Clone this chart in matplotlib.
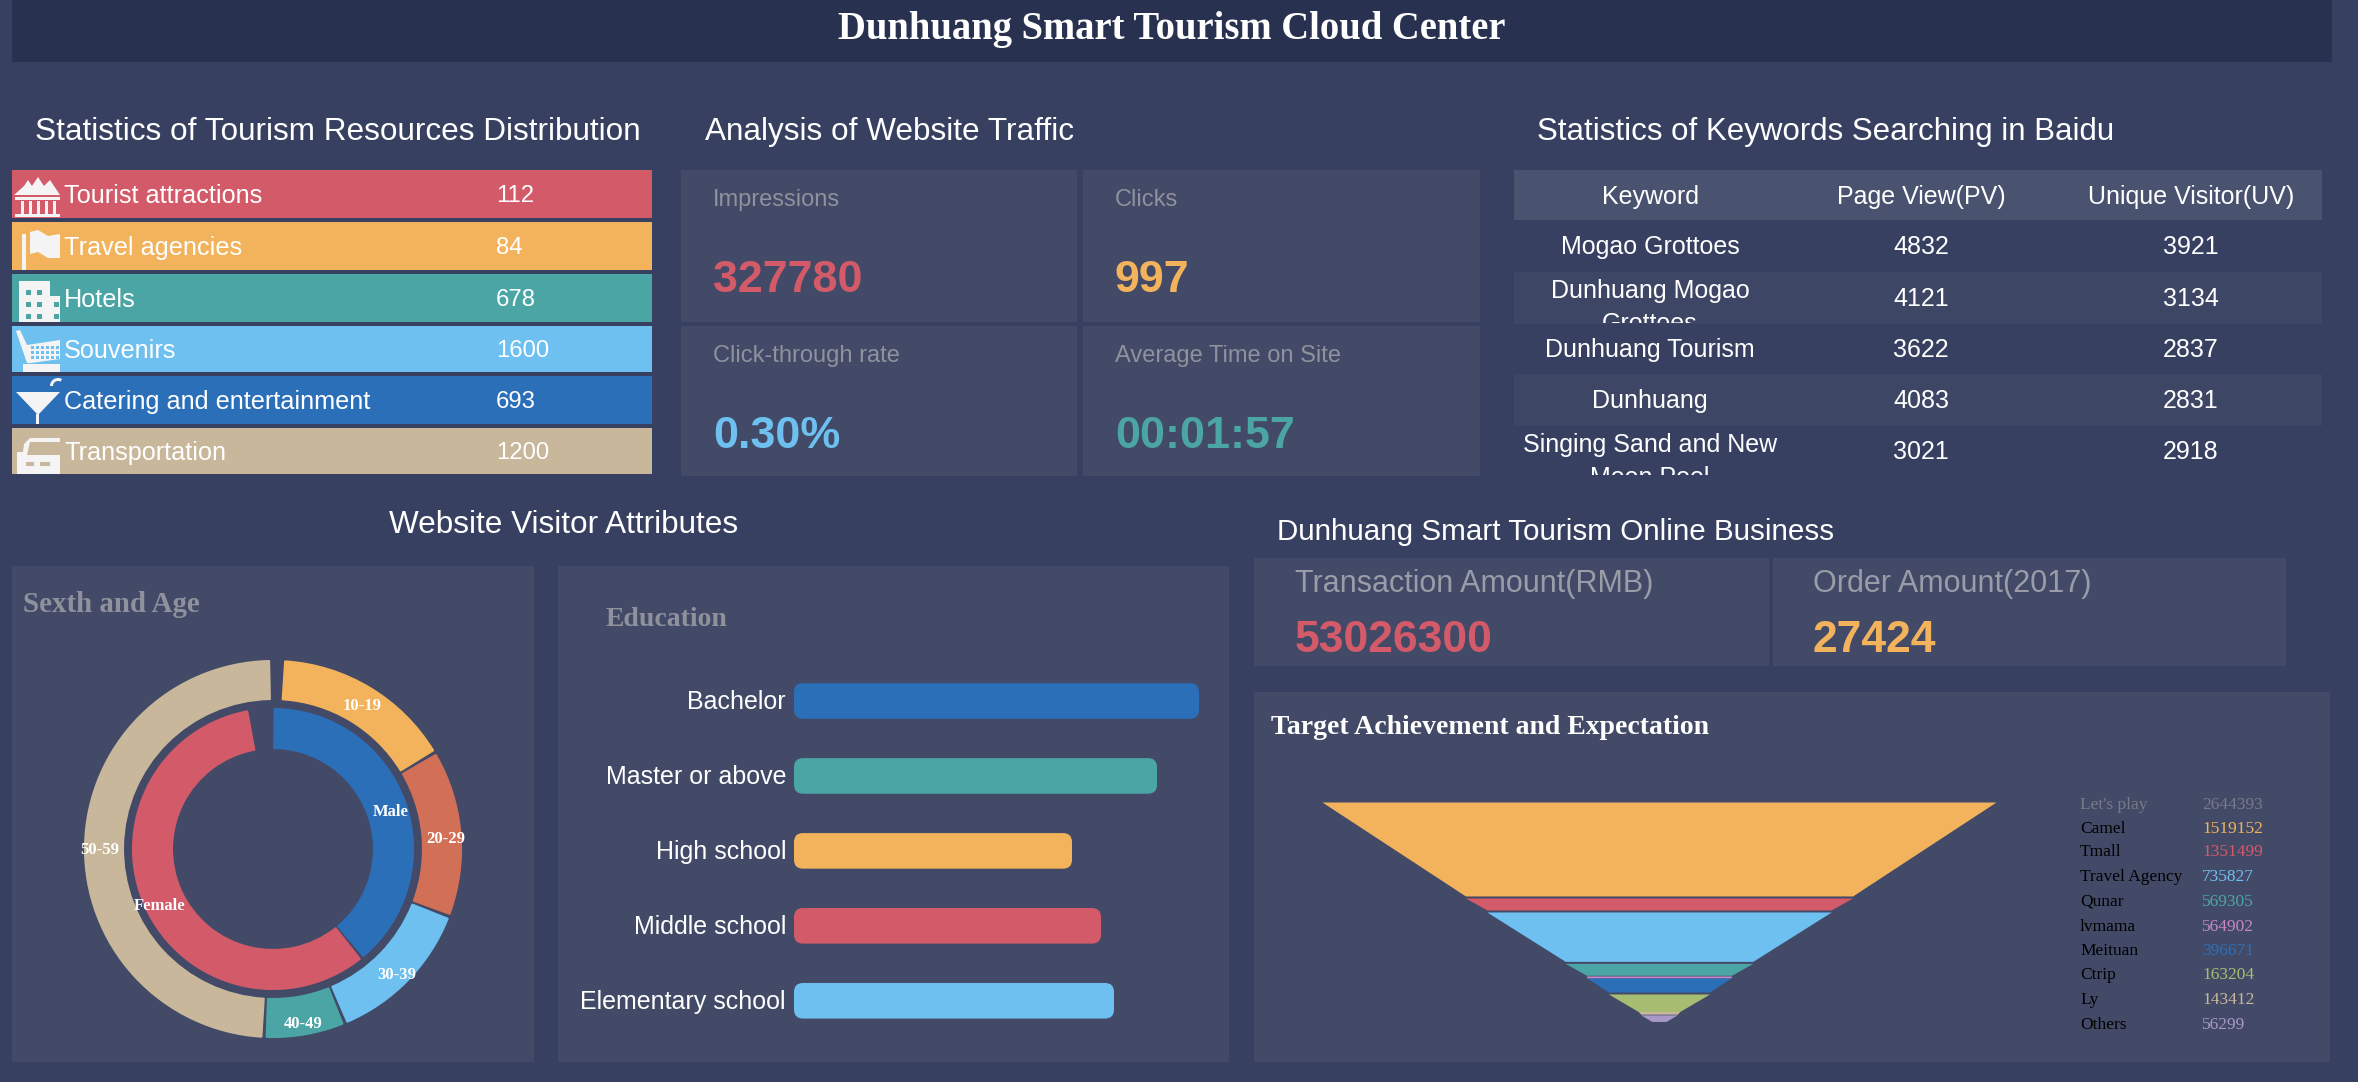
import matplotlib
matplotlib.use("Agg")
import matplotlib.pyplot as plt
from matplotlib.patches import Rectangle, Wedge, Polygon, FancyBboxPatch
import numpy as np

W, H = 2358, 1082

# colours
BG = "#374060"
PANEL = "#424a67"
DARK = "#28314f"
HEAD = "#49536f"
STRIPE = "#3d4664"
GREY = "#8f919d"
RED = "#d35a69"
ORANGE = "#f2b35c"
TEAL = "#4ca5a5"
SKY = "#6ec0f0"
BLUE = "#2c6fb9"
TAN = "#c8b79a"
CORAL = "#d26f57"
PINK = "#c987c8"
GREEN = "#a8bd72"
LAVENDER = "#a898c8"

SANS = "Liberation Sans"
SERIF = "Liberation Serif"

# data
res_names = ["Tourist attractions", "Travel agencies", "Hotels", "Souvenirs",
             "Catering and entertainment", "Transportation"]
res_values = [112, 84, 678, 1600, 693, 1200]
res_colors = [RED, ORANGE, TEAL, SKY, BLUE, TAN]

kpi_labels = ["Impressions", "Clicks", "Click-through rate", "Average Time on Site"]
kpi_values = ["327780", "997", "0.30%", "00:01:57"]
kpi_colors = [RED, ORANGE, SKY, TEAL]

table_head = ["Keyword", "Page View(PV)", "Unique Visitor(UV)"]
table_keywords = ["Mogao Grottoes", "Dunhuang Mogao\nGrottoes", "Dunhuang Tourism",
                  "Dunhuang", "Singing Sand and New\nMoon Pool"]
table_pv = [4832, 4121, 3622, 4083, 3021]
table_uv = [3921, 3134, 2837, 2831, 2918]

sex_names = ["Male", "Female"]
sex_shares = [38.75, 57.8]
sex_colors = [BLUE, RED]
age_names = ["10-19", "20-29", "30-39", "40-49", "50-59"]
age_shares = [15.3, 14.05, 12.6, 6.67, 48.8]
age_colors = [ORANGE, CORAL, SKY, TEAL, TAN]

edu_names = ["Bachelor", "Master or above", "High school", "Middle school", "Elementary school"]
edu_values = [405, 363, 278, 307, 320]
edu_colors = [BLUE, TEAL, ORANGE, RED, SKY]

biz_labels = ["Transaction Amount(RMB)", "Order Amount(2017)"]
biz_values = ["53026300", "27424"]
biz_colors = [RED, ORANGE]

funnel_names = ["Let's play", "Camel", "Tmall", "Travel Agency", "Qunar", "lvmama",
                "Meituan", "Ctrip", "Ly", "Others"]
funnel_values = [2644393, 1519152, 1351499, 735827, 569305, 564902, 396671, 163204, 143412, 56299]
funnel_colors = ["#777b88", ORANGE, RED, SKY, TEAL, PINK, BLUE, GREEN, TAN, LAVENDER]
funnel_gaps = [0, 0, 24000, 24000, 24000, 8000, 0, 24000, 0, 8000]
FUNNEL_MIN = 32000

fig = plt.figure(figsize=(W / 100, H / 100), dpi=100, facecolor=BG)


def px_axes(x0, y0, x1, y1):
    ax = fig.add_axes([x0 / W, 1 - y1 / H, (x1 - x0) / W, (y1 - y0) / H])
    ax.axis("off")
    return ax


bg = px_axes(0, 0, W, H)
bg.set_xlim(0, W)
bg.set_ylim(H, 0)


def box(x0, y0, x1, y1, color):
    r = Rectangle((x0, y0), x1 - x0, y1 - y0, color=color, lw=0)
    bg.add_patch(r)
    return r


def label(x, y, s, size, color="white", ha="left", family=SANS, weight="normal", clip=None):
    t = bg.text(x, y + 2, s, fontsize=size, color=color, ha=ha, va="center",
                family=family, weight=weight)
    if clip is not None:
        t.set_clip_on(True)
        t.set_clip_path(clip)
    return t


# title
box(12, 0, 2332, 62, DARK)
label(1172, 27, "Dunhuang Smart Tourism Cloud Center", 27.8, ha="center", family=SERIF, weight="bold")

# section titles
label(35, 130, "Statistics of Tourism Resources Distribution", 22.7)
label(705, 130, "Analysis of Website Traffic", 22.7)
label(1537, 130, "Statistics of Keywords Searching in Baidu", 22.5)
label(389, 523, "Website Visitor Attributes", 22.7)
label(1277, 530, "Dunhuang Smart Tourism Online Business", 21.3)

# resources list
row_tops = [170, 222, 274, 326, 376, 428]
row_bots = [218, 270, 322, 372, 424, 474]
for i in range(6):
    box(12, row_tops[i], 652, row_bots[i], res_colors[i])
    ym = (row_tops[i] + row_bots[i]) / 2
    label(64, ym, res_names[i], 18.2)
    label(496, ym, str(res_values[i]), 17.2)


# small icons in the rows
def shape(pts, color="#f4f4f4"):
    bg.add_patch(Polygon(pts, closed=True, color=color, lw=0))


# temple
shape([(14, 195), (24, 186), (28, 180), (32, 186), (38, 177), (44, 186), (50, 180), (54, 186), (60, 195)])
shape([(15, 197), (60, 197), (60, 200), (15, 200)])
for cx in [21, 29, 37, 45, 53]:
    shape([(cx, 201), (cx + 3, 201), (cx + 3, 214), (cx, 214)])
shape([(15, 214), (60, 214), (60, 217), (15, 217)])
# flag
shape([(22, 234), (26, 234), (26, 270), (22, 270)])
shape([(30, 232), (38, 230), (48, 236), (60, 234), (60, 258), (48, 258), (38, 252), (30, 254)])
# building
shape([(19, 281), (50, 281), (50, 296), (60, 296), (60, 322), (19, 322)])
for wy in [290, 302, 314]:
    for wx in [26, 37, 54]:
        box(wx, wy, wx + 5, wy + 5, TEAL)
# cart
shape([(16, 331), (20, 330), (27, 345), (60, 340), (60, 359), (31, 363), (27, 363)])
shape([(23, 364), (60, 364), (60, 372), (23, 372)])
for wy in [346, 351, 356]:
    for wx in range(31, 60, 5):
        box(wx, wy, wx + 3, wy + 3, SKY)
# cocktail
shape([(16, 392), (60, 392), (38, 415)])
shape([(36, 414), (39, 414), (39, 424), (36, 424)])
bg.add_patch(Wedge((58, 386), 8, 180, 300, width=3, color="#f4f4f4", lw=0))
# car
shape([(24, 444), (30, 438), (60, 438), (60, 474), (17, 474), (17, 452), (23, 452)])
shape([(30, 442), (60, 442), (60, 455), (27, 455)], TAN)
box(26, 462, 34, 466, TAN)
box(40, 462, 50, 466, TAN)

# traffic cards
card_x = [(681, 1077), (1083, 1480), (681, 1077), (1083, 1480)]
card_y = [(170, 322), (170, 322), (326, 476), (326, 476)]
for i in range(4):
    box(card_x[i][0], card_y[i][0], card_x[i][1], card_y[i][1], PANEL)
    label(card_x[i][0] + 32, card_y[i][0] + 28, kpi_labels[i], 17, color=GREY)
    label(card_x[i][0] + 32, card_y[i][0] + 108, kpi_values[i], 32.3, color=kpi_colors[i], weight="bold")

# keyword table
box(1514, 170, 2322, 220, HEAD)
box(1514, 272, 2322, 324, STRIPE)
box(1514, 374, 2322, 426, STRIPE)
col_x = [1650, 1921, 2191]
for cx, name in zip(col_x, table_head):
    label(cx, 195, name, 18, ha="center")
row_edges = [(220, 272), (272, 324), (324, 374), (374, 426), (426, 476)]
for i in range(5):
    y0, y1 = row_edges[i]
    ym = (y0 + y1) / 2
    clip = Rectangle((1514, y0), 808, y1 - 1 - y0, transform=bg.transData)
    lines = table_keywords[i].split("\n")
    if len(lines) == 1:
        label(col_x[0], ym - 1, lines[0], 18, ha="center")
    else:
        label(col_x[0], y0 + 17, lines[0], 18, ha="center", clip=clip)
        label(col_x[0], y0 + 50, lines[1], 18, ha="center", clip=clip)
    label(col_x[1], ym - 1, str(table_pv[i]), 18, ha="center")
    label(col_x[2], ym - 1, str(table_uv[i]), 18, ha="center")

# lower panels
box(12, 566, 534, 1062, PANEL)
box(558, 566, 1229, 1062, PANEL)
box(1254, 558, 1769, 666, PANEL)
box(1773, 558, 2286, 666, PANEL)
box(1254, 692, 2330, 1062, PANEL)

label(23, 602, "Sexth and Age", 20.8, color=GREY, family=SERIF, weight="bold")
label(606, 618, "Education", 20, color=GREY, family=SERIF, weight="bold")
label(1271, 725, "Target Achievement and Expectation", 20, family=SERIF, weight="bold")

biz_x = [1295, 1813]
for i in range(2):
    label(biz_x[i], 582, biz_labels[i], 22, color="#9a9ca8")
    label(biz_x[i], 638, biz_values[i], 32, color=biz_colors[i], weight="bold")

# donut, 1 data unit = 1 pixel
dn = px_axes(73, 649, 473, 1049)
dn.set_xlim(-200, 200)
dn.set_ylim(-200, 200)


def ring(ax, shares, colors, names, r_out, r_in, start, pad, r_text):
    a = start
    for share, col, name in zip(shares, colors, names):
        sweep = share * 3.6
        # angles run clockwise from 12 o'clock
        ax.add_patch(Wedge((0, 0), r_out - 1, 90 - a - sweep + 0.2, 90 - a - 0.2, width=r_out - r_in - 2,
                           facecolor=col, edgecolor=col, lw=1.5, joinstyle="round"))
        mid = np.radians(a + sweep / 2)
        ax.text(r_text * np.sin(mid), r_text * np.cos(mid) - 5, name, color="white", fontsize=12,
                family=SERIF, weight="bold", ha="center", va="center")
        a += sweep + pad


ring(dn, sex_shares, sex_colors, sex_names, 141, 100, 0.5, 1.5, 125)
ring(dn, age_shares, age_colors, age_names, 189, 149, 3.5, 1.2, 173)

# education bars, x in pixels
ed = px_axes(794, 662, 1240, 1042)
ed.set_xlim(0, 446)
ed.set_ylim(4.55, -0.52)
y_unit = 5.07 / 380
bars = ed.barh(range(5), edu_values, height=0.475, color=edu_colors)
for b, name, col in zip(bars, edu_names, edu_colors):
    x0, y0 = b.get_x(), b.get_y()
    bw, bh = b.get_width(), b.get_height()
    b.set_visible(False)
    ed.add_patch(FancyBboxPatch((x0, y0), bw, bh, boxstyle="round,pad=0,rounding_size=9",
                                mutation_aspect=y_unit, facecolor=col, edgecolor="none"))
    ed.text(-8, y0 + bh / 2 + 0.015, name, color="white", fontsize=18, family=SANS, ha="right", va="center")

# funnel, x and y both in value units
fn = px_axes(1322, 802, 1996, 1021)
fn.set_xlim(-funnel_values[0] / 2, funnel_values[0] / 2)
fn.set_ylim(-219 * 11976, 0)
top = 0
for i in range(1, len(funnel_values)):
    v0, v1 = funnel_values[i - 1], funnel_values[i]
    bot = top - max(v0 - v1, FUNNEL_MIN)
    # the gap to the slice above is taken off this slice's top
    fn.fill_betweenx([top - funnel_gaps[i], bot], [-v0 / 2, -v1 / 2], [v0 / 2, v1 / 2],
                     color=funnel_colors[i], lw=0)
    top = bot

# funnel legend
leg_y = [803, 827, 850, 875, 900, 925, 949, 973, 998, 1023]
for i in range(len(funnel_names)):
    c = "#777b88" if i == 0 else "black"
    label(2080, leg_y[i], funnel_names[i], 12.5, color=c, family=SERIF)
    label(2202, leg_y[i], str(funnel_values[i]), 12.5, color=funnel_colors[i], family=SERIF)

fig.savefig("out.png", dpi=100, facecolor=BG)
